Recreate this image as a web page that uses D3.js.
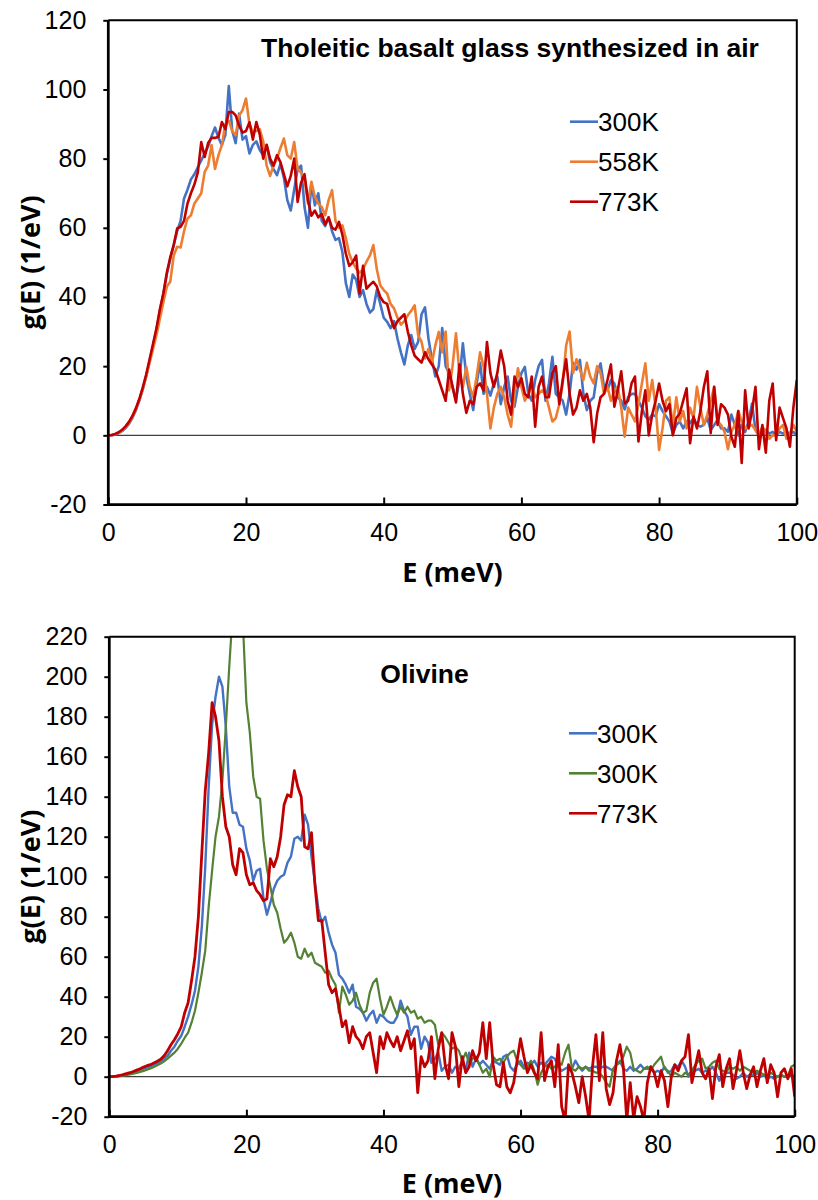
<!DOCTYPE html>
<html>
  <head>
    <meta charset="UTF-8" />
    <title>g(E) spectra</title>
    <script src="https://d3js.org/d3.v7.min.js"></script>
    <style>
      body { margin: 0; background: #ffffff; }
      .tick text { font-family: "Liberation Sans", Arial, sans-serif; font-size: 25px; fill: #000; }
      .tick line { stroke: #000; stroke-width: 2; }
      .panel-title { font-family: "Liberation Sans", Arial, sans-serif; font-size: 26.5px; font-weight: bold; }
      .legend-label { font-family: "Liberation Sans", Arial, sans-serif; font-size: 26px; }
      .axis-title { font-family: "Open Sans", sans-serif; font-weight: bold; font-size: 27px; }
    </style>
  </head>
  <body>
    <svg id="chart" width="818" height="1200"></svg>
    <script>
      // energy grid, meV
      const energy = d3.range(0, 100.25, 0.5);

      // Tholeitic basalt glass, g(E) in 1/eV
      const glass300 = [
        0, 0.05, 0.2, 0.6, 1.2, 2.1, 3.3, 5, 7.2, 10,
        13.2, 17, 21.5, 26, 30.5, 36, 41, 46.5, 51, 55,
        59, 62, 68.5, 71, 74, 75.5, 77.5, 79.5, 81.5, 83.5,
        86.5, 89, 86, 84, 86.8, 101, 88, 84.5, 93, 85.5,
        86.5, 81.5, 84, 85, 82.5, 81, 83.9, 79, 77, 75.2,
        78.5, 74.5, 68, 65, 71, 77, 78, 66, 60, 73,
        66.5, 70, 62, 60.5, 63, 59, 56.5, 57, 53, 44,
        40, 46.5, 45, 40, 42, 38, 35.5, 36.5, 42, 38,
        34, 32.8, 31, 33, 28, 24, 20.5, 26, 29, 25,
        27, 35, 37, 28, 22, 17, 20, 31, 20, 18,
        14, 10.2, 16, 26.6, 17, 12, 7.3, 15, 21, 12,
        14, 11.5, 15, 17, 9, 14, 17, 10, 8.3, 14,
        18, 19.8, 12, 10, 16, 20, 21.8, 10, 15, 22.7,
        12, 11, 10, 6, 12, 21, 19, 21.8, 12, 7.3,
        10, 11, 18, 20.8, 14, 13, 16, 15, 11, 10,
        7.5, 11, 12, 12, 10, 8, 5.5, 4.5, 6, 5.5,
        9, 7, 5.5, 4, 0.5, 3, 4, 2, 4, 3.5,
        5, 3, 2.5, 3, 5, 1.5, 3, 4.5, 2, 2,
        1, 6, 3, 0, 3, 1, 4, 9.2, 1.5, 0,
        2, 1.5, 0.5, 1, 0, 1, 0.5, 1, 0.5, 1,
        0
      ];
      const glass558 = [
        0, 0.05, 0.3, 0.7, 1.4, 2.3, 3.6, 5.3, 7.5, 10.2,
        13.5, 17, 21, 25, 29, 33.8, 38.5, 43, 44.4, 52,
        54.5, 54.3, 59, 62.7, 63.6, 67, 68.5, 70, 76.2, 78,
        83.9, 77, 81, 83.9, 90, 91, 88, 86.8, 92.5, 94,
        97.4, 90, 87.7, 88, 88.5, 85, 78, 75, 78, 80,
        83, 85.8, 81, 80, 84.8, 77, 76, 74, 67, 73.3,
        69, 67, 66, 63.6, 68, 70.9, 62, 60, 60.7, 57,
        52.5, 50, 48.2, 47, 48, 50.2, 52, 55, 48, 43.4,
        42, 41, 38, 36.7, 34, 32, 33, 34.7, 36, 37.6,
        29, 27, 22.2, 25, 21, 26, 29.9, 24, 30, 13,
        20, 29.5, 18, 14, 19.8, 14, 11, 17, 24, 20,
        12, 2, 8, 12, 14, 11, 6, 2.5, 12, 19.4,
        14, 10, 12, 15, 11, 12, 13, 12, 8, 4,
        5, 9, 15, 26, 30, 18, 22, 19, 16, 21,
        17, 15, 20, 18, 12, 14, 10, 13, 14, 8,
        -0.4, 8, 6, 4, 9, 15, 20.8, 10, 16, 8,
        -4.2, 2, 10, 11, 2.5, 11, 4, 7, 2, 8,
        5, 14, 8, 3, 6, 10, 14, 4, 3, 1,
        -4, 1, 3, 7, 4, 2, 2.5, 3, 1.5, 0,
        2.5, 1, -1, 0, 0, 2, 3, -1, 0.5, 3,
        1
      ];
      const glass773 = [
        0, 0.1, 0.4, 0.9, 1.6, 2.6, 3.9, 5.6, 7.8, 10.5,
        13.8, 17.6, 22, 26.5, 31, 36.5, 41, 47, 51.5, 55,
        59.8, 60.3, 62, 67, 70, 72.5, 76, 84.8, 80.5, 84.5,
        86, 86, 86.3, 90.6, 88.5, 93.5, 93.5, 92.5, 89.5, 87.5,
        88, 90.5, 85.5, 90.6, 87, 80, 84, 80, 78, 81,
        79, 75.5, 72, 75, 80, 67.5, 73, 75.5, 68, 63.5,
        65, 63, 64, 61, 63, 60, 59.5, 61.7, 58, 52.5,
        49, 50, 52, 41, 49, 42.4, 43.5, 44.4, 43, 40,
        38.5, 38, 34, 31, 33, 34, 35, 30, 26, 23,
        22, 21, 24, 22, 20.5, 19, 16, 13, 10, 19,
        14, 9.5, 20.5, 12, 6.5, 10, 9, 14, 15, 13,
        27, 18, 14, 18, 24.5, 20, 10, 6, 17, 14,
        16.5, 12, 11, 17, 2.5, 14, 17, 11, 11, 18,
        20, 9, 16, 22, 12, 6, 8, 13, 10, 12,
        8, -2, 6.3, 11, 12, 16, 20.5, 8.3, 13, 18.5,
        9.2, 10, 15, 17, -1.8, 7, 13, 0, 6, 10,
        15, 10, 7, 9, 0, 5, 6.3, 10, 13.6, -2.3,
        5.4, 2, 7, 14, 18.5, 0.6, 14, 3, 9, 8,
        6, -0.4, -3.3, 7, -8, 13, 2, 7, 14, -4,
        3, -5, 10, 15, -1.4, 8, 5, 2, -3.3, 8,
        16
      ];

      // Olivine, g(E) in 1/eV
      const olivine300a = [
        0, 0.05, 0.2, 0.45, 0.8, 1.2, 1.7, 2.2, 2.8, 3.4,
        4, 4.6, 5.2, 6, 6.8, 7.8, 9, 10.5, 13, 15,
        18, 20.5, 25, 30, 36, 43, 55, 75, 105, 145,
        176, 190, 200, 195, 175, 145, 132, 132, 126, 125,
        114, 108, 98, 103, 104, 89, 81, 87, 94, 98,
        100, 101, 107, 110, 119, 120, 118, 131, 126, 110,
        97, 84, 77, 80, 72, 66, 62, 51, 49, 46,
        42, 46, 35, 34, 32, 28, 31, 33, 27, 31,
        30, 28, 27, 27, 30, 38, 33, 30, 21, 25,
        25, 14, 20, 17, 7, 9, 12, 3, 5, 6,
        2, 5, 4, 8, 3, 12, 5, 9, 6, 8,
        6, 4, 8, 7, 6, 10, 11, 5, 3, 6,
        8, 5, 7, 6, 8, 5, 7, 6, 8, 10,
        9, 5, 3, 4, 5, 4, 8, 5, 3, 5,
        4, 5, 5, 4, 5, 5, 4, 3, 6, 8,
        4, 3, 5, 3, 4, 6, 4, 4, 5, 2,
        3, 2, 5, 2, 3, 6, 5, 8, 5, 0,
        2, 3, 4, 2, 3, 3, 5, 2, -2, 1,
        2, 2, 1, -1, 0, 2, 0, 1, 1, 2,
        0, 1, -1, 0, -1, 0, 1, 0, 0, 1,
        0
      ];
      const olivine300b = [
        0, 0.02, 0.1, 0.25, 0.5, 0.8, 1.1, 1.5, 1.9, 2.4,
        2.9, 3.5, 4.1, 4.9, 5.7, 6.6, 7.7, 9, 10.5, 12,
        14, 16.5, 19.5, 22, 27, 33, 42, 52, 63, 85,
        103, 120, 130, 148, 175, 205, 232, 250, 245, 226,
        187, 172, 150, 140, 139, 118, 104, 95, 86, 82,
        74, 67, 69, 72, 67, 60, 59, 64, 60, 62,
        57, 56, 55, 52, 53, 49, 46, 32, 45, 41,
        36, 38, 42, 36, 32, 33, 42, 47, 49, 39,
        31, 35, 40, 35, 31, 35, 32, 35, 32, 33,
        29, 30, 27, 28, 28, 26, 16, 22, 20, 17,
        14, 15, 13, 8, 12, 7, 9, 10, 6, 2,
        4, 0, 10, 8, 9, 7, 10, 12, 13, 8,
        6, 4, 5, 8, 3, -4, 2, 5, 6, 4,
        5, 7, 6, 12, 16, 4, 3, 5, 4, 5,
        3, 3, 2, 2, 0, -3, -5, 4, 6, 7,
        10, 15, 12, 4, 3, 2, 4, 5, 3, 6,
        8, 10, 4, 3, 0, 2, 1, 0, 2, 1,
        3, 6, 8, 9, 4, 5, 7, 8, 4, 3,
        2, 5, 4, 5, 3, 5, 4, 3, 2, 3,
        2, 1, 0, 2, 1, 0, 1, 0, 0, 5,
        6
      ];
      const olivine773 = [
        0, 0.1, 0.3, 0.6, 1, 1.5, 2, 2.6, 3.3, 4,
        4.8, 5.5, 6, 6.8, 7.7, 8.7, 10.5, 13, 16, 18.5,
        21.5, 25, 32, 37, 48, 60, 80, 112, 143, 162,
        187, 180, 168, 140, 125, 120, 106, 101, 114, 112,
        101, 96, 97, 93, 91, 88, 89, 109, 105, 110,
        120, 136, 141, 140, 153, 145, 140, 115, 114, 122,
        96, 78, 78, 62, 46, 42, 44, 35, 25, 28,
        17, 25, 20, 18, 14, 20, 22, 12, 2, 20,
        14, 22, 18, 15, 20, 13, 18, 23, 14, 19,
        -8, 10, 5, 8, 20, -1, 14, 22, 6, -1,
        22, 15, -5, 10, 2, 5, 13, 8, 12, 27,
        9, 27, 6, -4, -5, 7, -5, -8, -3, 8,
        19, 10, 2, 6, 2, -1, 22, -2, 5, 8,
        -5, 16, -15, -22, 6, 2, -5, -13, 0, -10,
        -22, 5, 21, -2, 22, -6, -14, -8, 8, 16,
        5, -22, -3, -21, -10, -15, -22, -3, 5, 2,
        -5, 3, -2, -15, 0, 6, 3, 8, 10, 21,
        -3, 5, 13, 2, -1, 4, -11, 5, 11, -5,
        4, 9, -6, 3, 13, 2, -6, 1, 5, -5,
        3, 9, -3, 6, 2, -10, 2, 4, -1, 4,
        -10
      ];

      const xTicks = [0, 20, 40, 60, 80, 100];
      const glassYTicks = [-20, 0, 20, 40, 60, 80, 100, 120];
      const olivineYTicks = [-20, 0, 20, 40, 60, 80, 100, 120, 140, 160, 180, 200, 220];

      const blue = "#4472c4";
      const orange = "#ed7d31";
      const red = "#c00000";
      const green = "#548235";

      const panels = [
        {
          id: "glass",
          left: 108.3, right: 796.8, top: 20.3, bottom: 504.5,
          yTicks: glassYTicks,
          title: "Tholeitic basalt glass synthesized in air",
          titleX: 510, titleY: 57,
          legendY: 121.7, legendX: 570,
          xTitleY: 581.5,
          series: [
            { name: "300K", values: glass300, color: blue, width: 2.6 },
            { name: "558K", values: glass558, color: orange, width: 2.6 },
            { name: "773K", values: glass773, color: red, width: 2.6 },
          ],
        },
        {
          id: "olivine",
          left: 109.3, right: 794.7, top: 636.7, bottom: 1116.7,
          yTicks: olivineYTicks,
          title: "Olivine",
          titleX: 424.5, titleY: 683,
          legendY: 733.3, legendX: 569,
          xTitleY: 1193,
          series: [
            { name: "300K", values: olivine300a, color: blue, width: 2.4 },
            { name: "300K", values: olivine300b, color: green, width: 2.2 },
            { name: "773K", values: olivine773, color: red, width: 2.8 },
          ],
        },
      ];

      const svg = d3.select("#chart");

      const drawPanel = (p) => {
        const g = svg.append("g").attr("class", p.id);
        const x = d3.scaleLinear().domain([0, 100]).range([p.left, p.right]);
        const y = d3
          .scaleLinear()
          .domain(d3.extent(p.yTicks))
          .range([p.bottom, p.top]);

        const clipId = `clip-${p.id}`;
        g.append("clipPath")
          .attr("id", clipId)
          .append("rect")
          .attr("x", p.left)
          .attr("y", p.top)
          .attr("width", p.right - p.left)
          .attr("height", p.bottom - p.top);

        // zero line
        g.append("line")
          .attr("x1", p.left)
          .attr("x2", p.right)
          .attr("y1", y(0))
          .attr("y2", y(0))
          .attr("stroke", "#404040")
          .attr("stroke-width", 1.3);

        const line = d3
          .line()
          .x((d, i) => x(energy[i]))
          .y((d) => y(d));

        g.selectAll("path.series")
          .data(p.series)
          .enter()
          .append("path")
          .attr("class", "series")
          .attr("d", (s) => line(s.values))
          .attr("fill", "none")
          .attr("stroke", (s) => s.color)
          .attr("stroke-width", (s) => s.width)
          .attr("stroke-linejoin", "round")
          .attr("clip-path", `url(#${clipId})`);

        // axes (plain hyphen for negatives, as in the original)
        const yAxis = d3
          .axisLeft(y)
          .tickValues(p.yTicks)
          .tickSize(5)
          .tickPadding(17)
          .tickFormat((d) => String(d));
        g.append("g")
          .attr("transform", `translate(${p.left},0)`)
          .call(yAxis)
          .call((a) => a.select(".domain").remove());

        const xAxis = d3
          .axisBottom(x)
          .tickValues(xTicks)
          .tickSize(-7)
          .tickPadding(19)
          .tickFormat((d) => String(d));
        g.append("g")
          .attr("transform", `translate(0,${p.bottom})`)
          .call(xAxis)
          .call((a) => a.select(".domain").remove());

        // frame
        g.append("path")
          .attr("d", `M${p.left},${p.top}H${p.right}V${p.bottom}`)
          .attr("fill", "none")
          .attr("stroke", "#000")
          .attr("stroke-width", 2);
        g.append("path")
          .attr("d", `M${p.left},${p.top}V${p.bottom}H${p.right}`)
          .attr("fill", "none")
          .attr("stroke", "#000")
          .attr("stroke-width", 2.75);

        g.append("text")
          .attr("class", "panel-title")
          .attr("x", p.titleX)
          .attr("y", p.titleY)
          .attr("text-anchor", "middle")
          .text(p.title);

        // legend
        const legend = g
          .selectAll("g.legend")
          .data(p.series)
          .enter()
          .append("g")
          .attr("class", "legend")
          .attr("transform", (s, i) => `translate(${p.legendX},${p.legendY + i * 40})`);
        legend
          .append("line")
          .attr("x1", 0)
          .attr("x2", 28)
          .attr("stroke", (s) => s.color)
          .attr("stroke-width", 2.6);
        legend
          .append("text")
          .attr("class", "legend-label")
          .attr("x", 28)
          .attr("dy", "0.36em")
          .text((s) => s.name);

        // axis titles
        const midY = (p.top + p.bottom) / 2;
        g.append("text")
          .attr("class", "axis-title")
          .attr("transform", `translate(39.5,${midY}) rotate(-90)`)
          .attr("text-anchor", "middle")
          .text("g(E) (1/eV)");
        g.append("text")
          .attr("class", "axis-title")
          .attr("x", (p.left + p.right) / 2)
          .attr("y", p.xTitleY)
          .attr("text-anchor", "middle")
          .text("E (meV)");
      };

      panels.forEach(drawPanel);
    </script>
  </body>
</html>
